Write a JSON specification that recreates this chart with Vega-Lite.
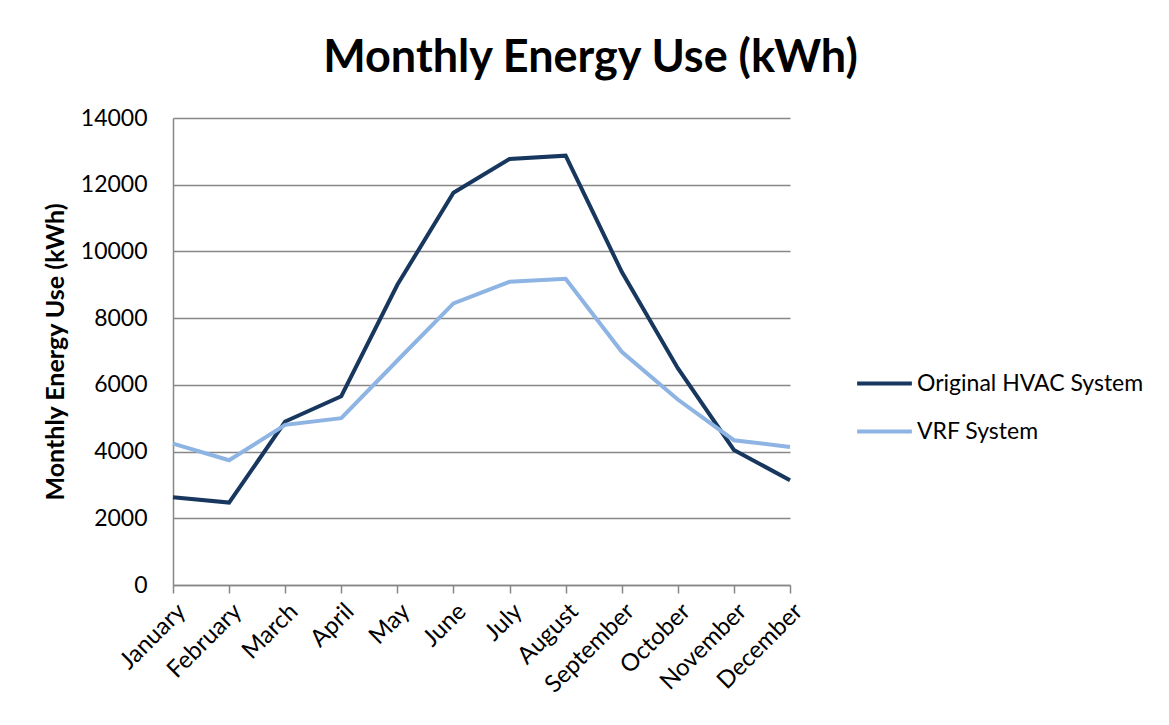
{
  "$schema": "https://vega.github.io/schema/vega-lite/v6.json",
  "width": 617,
  "height": 467,
  "autosize": "none",
  "padding": {"left": 173, "top": 118, "right": 379, "bottom": 140},
  "background": "white",
  "title": {
    "text": "Monthly Energy Use (kWh)",
    "font": "Lato",
    "fontSize": 45,
    "fontWeight": "bold",
    "color": "#000000",
    "anchor": "middle",
    "dx": 109,
    "offset": 26
  },
  "data": {
    "values": [
      {"month": "January", "series": "Original HVAC System", "kwh": 2630},
      {"month": "February", "series": "Original HVAC System", "kwh": 2470},
      {"month": "March", "series": "Original HVAC System", "kwh": 4900},
      {"month": "April", "series": "Original HVAC System", "kwh": 5660},
      {"month": "May", "series": "Original HVAC System", "kwh": 9000},
      {"month": "June", "series": "Original HVAC System", "kwh": 11760},
      {"month": "July", "series": "Original HVAC System", "kwh": 12770},
      {"month": "August", "series": "Original HVAC System", "kwh": 12870},
      {"month": "September", "series": "Original HVAC System", "kwh": 9390},
      {"month": "October", "series": "Original HVAC System", "kwh": 6500},
      {"month": "November", "series": "Original HVAC System", "kwh": 4050},
      {"month": "December", "series": "Original HVAC System", "kwh": 3140},
      {"month": "January", "series": "VRF System", "kwh": 4240},
      {"month": "February", "series": "VRF System", "kwh": 3740},
      {"month": "March", "series": "VRF System", "kwh": 4800},
      {"month": "April", "series": "VRF System", "kwh": 5000},
      {"month": "May", "series": "VRF System", "kwh": 6730},
      {"month": "June", "series": "VRF System", "kwh": 8440},
      {"month": "July", "series": "VRF System", "kwh": 9090},
      {"month": "August", "series": "VRF System", "kwh": 9180},
      {"month": "September", "series": "VRF System", "kwh": 6990},
      {"month": "October", "series": "VRF System", "kwh": 5560},
      {"month": "November", "series": "VRF System", "kwh": 4340},
      {"month": "December", "series": "VRF System", "kwh": 4140}
    ]
  },
  "mark": {"type": "line", "strokeWidth": 4, "strokeJoin": "miter"},
  "encoding": {
    "x": {
      "field": "month",
      "type": "ordinal",
      "sort": ["January","February","March","April","May","June","July","August","September","October","November","December"],
      "scale": {"type": "point", "padding": 0},
      "axis": {
        "title": null,
        "labelAngle": -45,
        "labelAlign": "right",
        "labelBaseline": "top",
        "labelFont": "Lato",
        "labelFontSize": 24,
        "labelColor": "#000000",
        "labelPadding": 6,
        "labelOffset": 0,
        "domainColor": "#878787",
        "domainWidth": 1.5,
        "tickColor": "#878787",
        "tickWidth": 1.5,
        "tickSize": 8,
        "grid": false
      }
    },
    "y": {
      "field": "kwh",
      "type": "quantitative",
      "scale": {"domain": [0, 14000], "nice": false},
      "axis": {
        "title": "Monthly Energy Use (kWh)",
        "titleFont": "Lato",
        "titleFontSize": 25,
        "titleFontWeight": "bold",
        "titleColor": "#000000",
        "titlePadding": 12,
        "values": [0, 2000, 4000, 6000, 8000, 10000, 12000, 14000],
        "format": "d",
        "labelFont": "Lato",
        "labelFontSize": 23,
        "labelColor": "#000000",
        "labelPadding": 26,
        "ticks": false,
        "domainColor": "#878787",
        "domainWidth": 1.5,
        "grid": true,
        "gridColor": "#878787",
        "gridWidth": 1.5
      }
    },
    "color": {
      "field": "series",
      "type": "nominal",
      "scale": {"domain": ["Original HVAC System", "VRF System"], "range": ["#17375E", "#8DB4E2"]},
      "legend": {
        "title": null,
        "orient": "none",
        "legendX": 682,
        "legendY": 236,
        "symbolType": "stroke",
        "symbolStrokeWidth": 4,
        "symbolSize": 3000,
        "labelFont": "Lato",
        "labelFontSize": 23,
        "labelColor": "#000000",
        "labelOffset": 3,
        "labelLimit": 0,
        "rowPadding": 6
      }
    }
  },
  "config": {"view": {"stroke": null}}
}
